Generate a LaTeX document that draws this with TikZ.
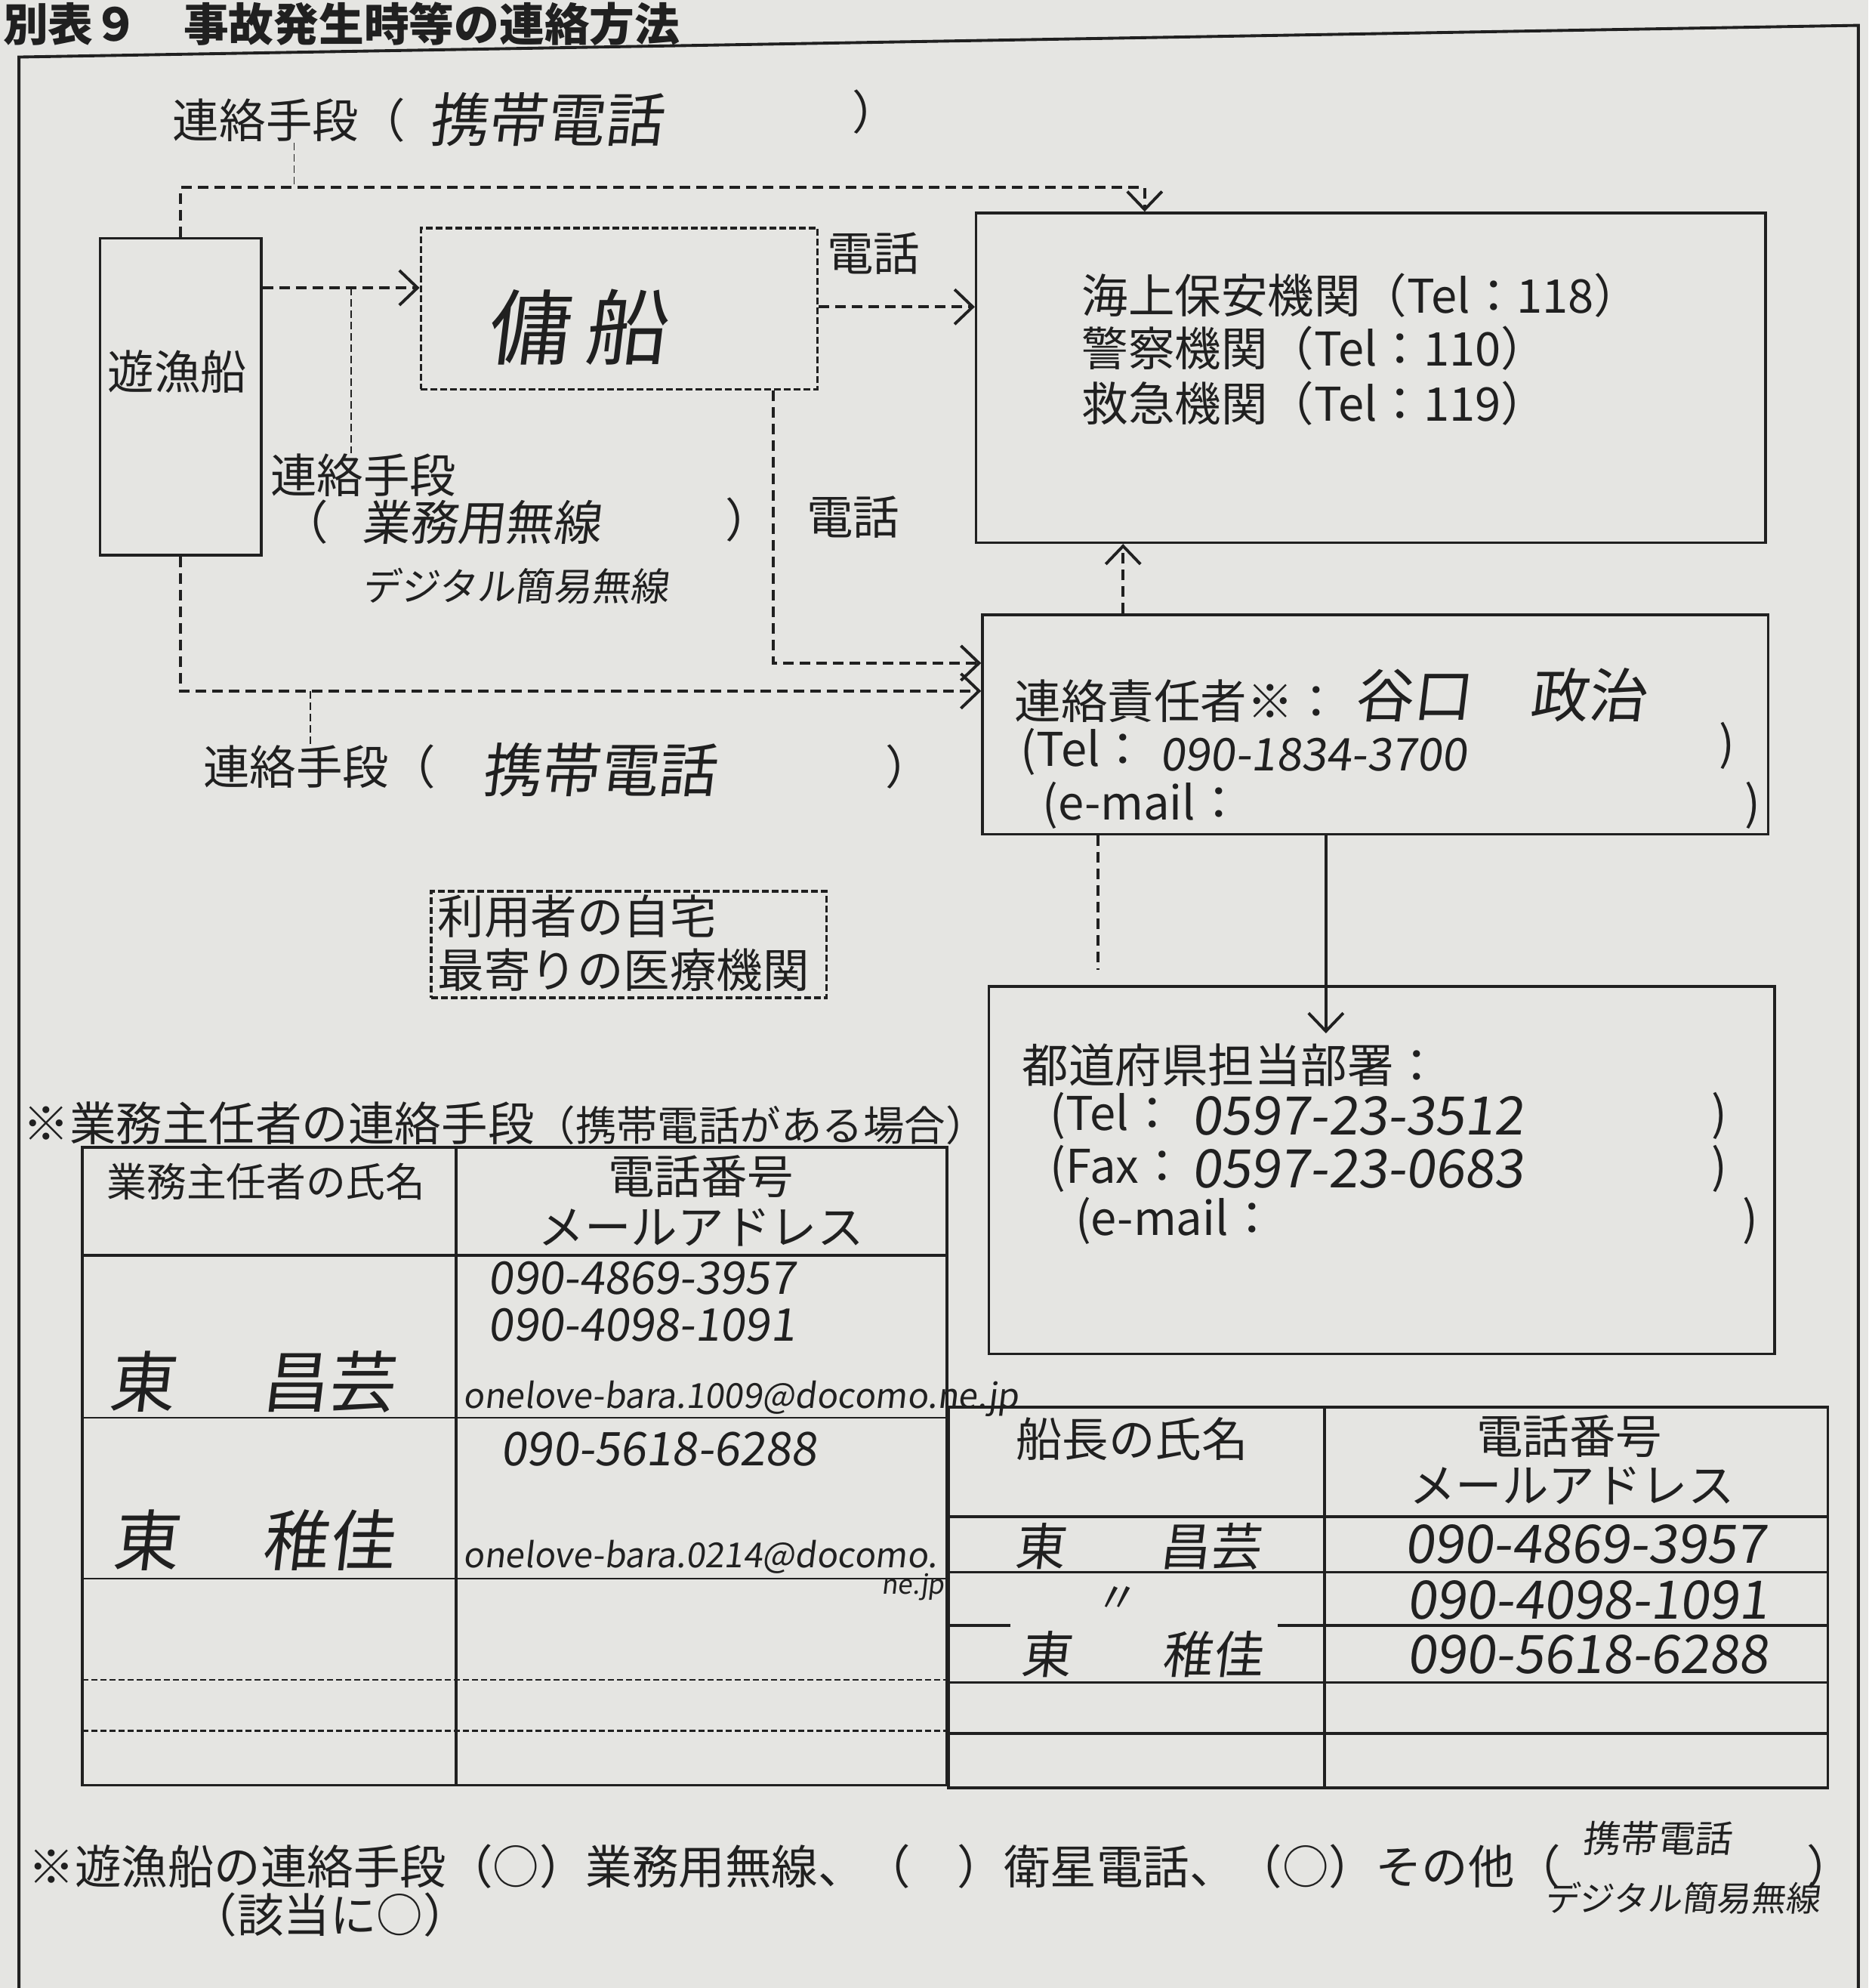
\documentclass[tikz,border=0pt]{standalone}
\usepackage{fontspec}
\setmainfont{Noto Sans CJK JP}
\newfontfamily\handfont[FakeSlant=0.12]{Noto Sans CJK JP}
\usetikzlibrary{arrows.meta}
\definecolor{paper-grey}{RGB}{229,229,226}
\definecolor{ink-black}{RGB}{32,32,32}
\newcommand{\txtsize}[1]{\fontsize{#1}{#1}\selectfont}

\begin{document}
\begin{tikzpicture}[x=0.01678cm, y=-0.01678cm,
  box/.style={draw=ink-black, line width=1pt, inner sep=0pt},
  dbox/.style={box, dash pattern=on 0.9mm off 0.4mm},
  dline/.style={draw=ink-black, line width=1.1pt, dash pattern=on 1.4mm off 0.8mm},
  sline/.style={draw=ink-black, line width=1.1pt},
  tline/.style={draw=ink-black, line width=0.5pt, dash pattern=on 1mm off 0.5mm},
  arr/.style={-{Straight Barb[length=2.4mm, width=4.6mm]}},
  tbl/.style={draw=ink-black, line width=1.1pt},
  thinrow/.style={draw=ink-black, line width=0.6pt},
  dashrow/.style={draw=ink-black, line width=0.7pt, dash pattern=on 0.8mm off 0.4mm},
  txt/.style={text=ink-black, inner sep=0pt, anchor=west, font=\txtsize{17.5}},
  hand/.style={txt, font=\handfont\txtsize{#1}},
  hand/.default=21]
\useasboundingbox[fill=paper-grey] (0,0) rectangle (1474,1568);

% frame and title
\draw[tbl] (15,1568) -- (15,45) -- (1466,20) -- (1466,1568);
\node[txt, font=\bfseries\txtsize{17}] (title) at (2,19) {別表９　事故発生時等の連絡方法};

% boxes
\node[box, minimum width=2.131cm, minimum height=4.195cm] (yugyo) at (142.5,313) {};
\node[txt, anchor=center] (yugyo-t) at (140,293) {遊漁船};
\node[dbox, minimum width=5.252cm, minimum height=2.131cm] (yousen) at (488.5,243.5) {};
\node[hand=31, anchor=center] (yousen-t) at (455,258) {傭\hspace{0.2cm}船};
\node[box, minimum width=10.454cm, minimum height=4.363cm] (kikan) at (1081.5,298) {};
\node[box, minimum width=10.404cm, minimum height=2.903cm] (sekinin) at (1085,571.5) {};
\node[box, minimum width=10.404cm, minimum height=4.866cm] (pref) at (1090,923) {};
\node[dbox, minimum width=5.235cm, minimum height=1.41cm] (home) at (496,745) {};

% labels round the connectors
\node[txt] (m1) at (136,95) {連絡手段（};
\node[hand=22] (m1h) at (338,94) {携帯電話};
\node[txt] (m1r) at (672,88) {）};
\node[txt] (d1) at (652,200) {電話};
\node[txt] (m2) at (213,375) {連絡手段};
\node[txt] (m2l) at (222,412) {（};
\node[hand=18] (m2h) at (285,412) {業務用無線};
\node[hand=14.5] (m2h2) at (285,462) {デジタル簡易無線};
\node[txt] (m2r) at (572,410) {）};
\node[txt] (d2) at (636,408) {電話};
\node[txt] (m3) at (160,605) {連絡手段（};
\node[hand=22] (m3h) at (380,607) {携帯電話};
\node[txt] (m3r) at (698,605) {）};

% texts in the boxes
\node[txt] (kk1) at (853,233) {海上保安機関（Tel：118）};
\node[txt] (kk2) at (853,275) {警察機関（Tel：110）};
\node[txt] (kk3) at (853,318) {救急機関（Tel：119）};
\node[txt] (sk1) at (800,553) {連絡責任者※：};
\node[hand=22] (sk1h) at (1068,548) {谷口　政治};
\node[txt] (sk2) at (805,593) {(Tel：};
\node[hand=17] (sk2h) at (915,595) {090-1834-3700};
\node[txt] (sk2r) at (1356,588) {)};
\node[txt] (sk3) at (822,635) {(e-mail：};
\node[txt] (sk3r) at (1376,635) {)};
\node[txt] (pf1) at (806,840) {都道府県担当部署：};
\node[txt] (pf2) at (828,880) {(Tel：};
\node[hand=20] (pf2h) at (940,880) {0597-23-3512};
\node[txt] (pf2r) at (1350,880) {)};
\node[txt] (pf3) at (828,922) {(Fax：};
\node[hand=20] (pf3h) at (940,922) {0597-23-0683};
\node[txt] (pf3r) at (1350,922) {)};
\node[txt] (pf4) at (848,963) {(e-mail：};
\node[txt] (pf4r) at (1374,963) {)};
\node[txt] (hm1) at (345,723) {利用者の自宅};
\node[txt] (hm2) at (345,765) {最寄りの医療機関};

% connectors
\coordinate (t1) at (903,148);
\coordinate (t1tick) at (232,148);
\draw[dline, arr] (yugyo.north) |- (t1) -- (t1 |- kikan.north);
\draw[tline] (m1.south -| t1tick) -- (t1tick);
\coordinate (r1) at (277,227);
\draw[dline, arr] (yugyo.east |- r1) -- (yousen.west |- r1);
\draw[tline] (r1) -- (r1 |- m2.north);
\coordinate (r2) at (0,242);
\draw[dline, arr] (yousen.east |- r2) -- (kikan.west |- r2);
\coordinate (r3) at (610,523);
\draw[dline, arr] (yousen.south -| r3) |- (sekinin.west |- r3);
\coordinate (r4) at (143,545);
\coordinate (r4tick) at (245,545);
\draw[dline, arr] (yugyo.south) |- (sekinin.west |- r4);
\draw[tline] (r4tick) -- (r4tick |- m3.north);
\coordinate (r5) at (886,0);
\draw[dline, arr] (sekinin.north -| r5) -- (kikan.south -| r5);
\coordinate (r6) at (866,765);
\draw[dline] (sekinin.south -| r6) -- (r6);
\coordinate (r7) at (1046,815);
\draw[sline, arr] (sekinin.south -| r7) -- (r7);

% table of the managers
\node[txt] (tb1) at (18,886) {※業務主任者の連絡手段\txtsize{15.5}（携帯電話がある場合）};
\draw[tbl] (65,905) rectangle (747,1408);
\draw[tbl] (360,905) -- (360,1408);
\draw[tbl] (65,990) -- (747,990);
\draw[thinrow] (65,1118) -- (747,1118);
\draw[thinrow] (65,1245) -- (747,1245);
\draw[dashrow] (65,1325) -- (747,1325);
\draw[dashrow] (65,1365) -- (747,1365);
\node[txt, anchor=center, font=\txtsize{15}] (h1a) at (210,932) {業務主任者の氏名};
\node[txt, anchor=center] (h1b) at (553,928) {電話番号};
\node[txt, anchor=center] (h1c) at (553,968) {メールアドレス};
\node[hand=17] (p1a) at (385,1008) {090-4869-3957};
\node[hand=17] (p1b) at (385,1045) {090-4098-1091};
\node[hand=25] (n1) at (85,1090) {東\hspace{1.15cm}昌芸};
\node[hand=13] (e1) at (365,1103) {onelove-bara.1009@docomo.ne.jp};
\node[hand=17.5] (p2a) at (395,1143) {090-5618-6288};
\node[hand=25] (n2) at (88,1215) {東\hspace{1.1cm}稚佳};
\node[hand=13] (e2) at (365,1228) {onelove-bara.0214@docomo.};
\node[hand=10] (e2b) at (695,1252) {ne.jp};

% table of the captains
\draw[tbl] (748,1110) rectangle (1442,1410);
\draw[tbl] (1045,1110) -- (1045,1410);
\foreach \y in {1196,1240,1327,1367}
  \draw[tbl] (748,\y) -- (1442,\y);
\draw[tbl] (748,1282) -- (797,1282);
\draw[tbl] (1008,1282) -- (1442,1282);
\node[txt, anchor=center] (h2a) at (893,1135) {船長の氏名};
\node[txt, anchor=center] (h2b) at (1238,1133) {電話番号};
\node[txt, anchor=center] (h2c) at (1240,1172) {メールアドレス};
\node[hand=19] (n3) at (800,1220) {東\hspace{1.25cm}昌芸};
\node[hand=16, anchor=center] (n3b) at (880,1262) {〃};
\node[hand=19] (n4) at (805,1305) {東\hspace{1.2cm}稚佳};
\node[hand=20] (p3a) at (1108,1218) {090-4869-3957};
\node[hand=20] (p3b) at (1110,1262) {090-4098-1091};
\node[hand=20] (p3c) at (1110,1305) {090-5618-6288};

% means of the boat
\node[txt] (ft1) at (22,1472) {※遊漁船の連絡手段（○）業務用無線、（　）衛星電話、（○）その他（};
\node[hand=14] (ft1h) at (1248,1450) {携帯電話};
\node[hand=13] (ft1h2) at (1218,1497) {デジタル簡易無線};
\node[txt] (ft1r) at (1425,1472) {）};
\node[txt] (ft2) at (150,1510) {（該当に○）};
\end{tikzpicture}
\end{document}
